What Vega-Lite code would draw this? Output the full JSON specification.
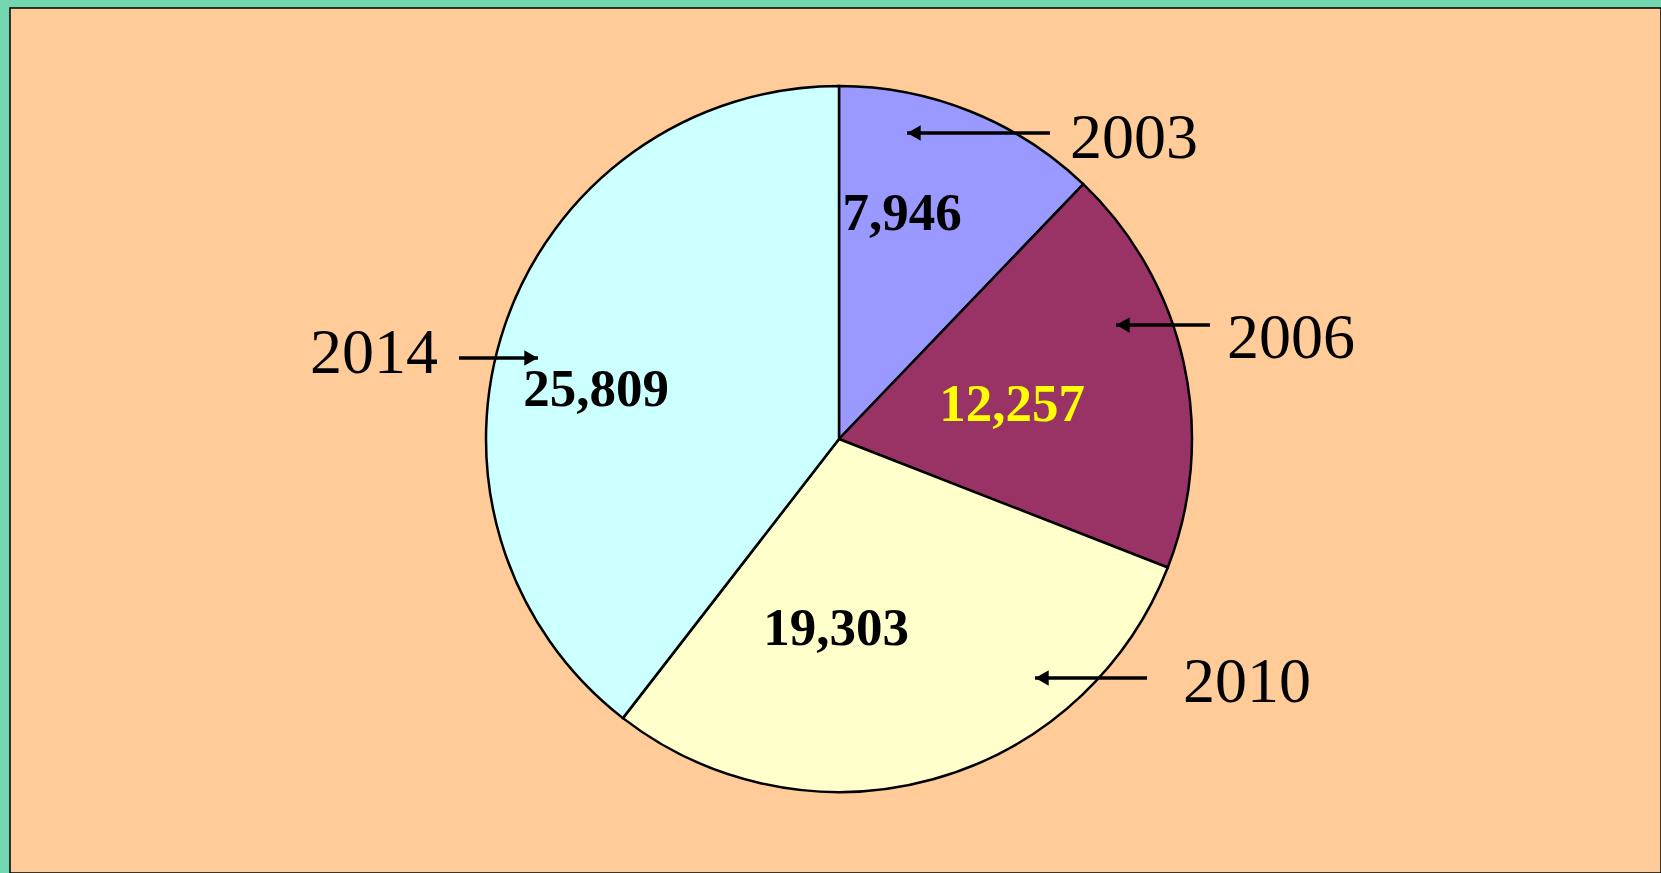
{
  "$schema": "https://vega.github.io/schema/vega-lite/v6.json",
  "width": 1651,
  "height": 865,
  "autosize": {"type": "none"},
  "padding": {"left": 10, "top": 8, "right": 0, "bottom": 0},
  "background": "#72D6B0",
  "config": {"view": {"fill": "#FFCC99", "stroke": "#000000", "strokeWidth": 1.5}},
  "data": {
    "values": [
      {"year": "2003", "value": 7946, "vx": 902, "vy": 230, "yx": 1070, "yy": 158, "ax1": 1050, "ax2": 907, "ay": 133},
      {"year": "2006", "value": 12257, "vx": 1012, "vy": 421, "yx": 1227, "yy": 358, "ax1": 1210, "ax2": 1116, "ay": 325},
      {"year": "2010", "value": 19303, "vx": 836, "vy": 645, "yx": 1183, "yy": 702, "ax1": 1147, "ax2": 1035, "ay": 678},
      {"year": "2014", "value": 25809, "vx": 596, "vy": 406, "yx": 310, "yy": 373, "ax1": 459, "ax2": 538, "ay": 358}
    ]
  },
  "layer": [
    {
      "mark": {"type": "arc", "outerRadius": 353, "stroke": "#000000", "strokeWidth": 2.5},
      "encoding": {
        "theta": {"field": "value", "type": "quantitative", "stack": true},
        "order": {"field": "year", "type": "ordinal", "sort": "ascending"},
        "color": {
          "field": "year",
          "type": "nominal",
          "scale": {"domain": ["2003", "2006", "2010", "2014"], "range": ["#9999FF", "#993366", "#FFFFCC", "#CCFFFF"]},
          "legend": null
        },
        "x": {"datum": 839, "type": "quantitative", "scale": {"domain": [10, 1661], "nice": false, "zero": false}, "axis": null},
        "y": {"datum": 439, "type": "quantitative", "scale": {"domain": [8, 873], "nice": false, "zero": false, "reverse": true}, "axis": null}
      }
    },
    {
      "mark": {"type": "rule", "stroke": "#000000", "strokeWidth": 3.5},
      "encoding": {
        "x": {"field": "ax1", "type": "quantitative"},
        "x2": {"field": "ax2"},
        "y": {"field": "ay", "type": "quantitative"}
      }
    },
    {
      "transform": [{"filter": "datum.year != '2014'"}],
      "mark": {"type": "point", "shape": "triangle-left", "filled": true, "color": "#000000", "size": 240, "xOffset": 7, "opacity": 1},
      "encoding": {
        "x": {"field": "ax2", "type": "quantitative"},
        "y": {"field": "ay", "type": "quantitative"}
      }
    },
    {
      "transform": [{"filter": "datum.year == '2014'"}],
      "mark": {"type": "point", "shape": "triangle-right", "filled": true, "color": "#000000", "size": 240, "xOffset": -7, "opacity": 1},
      "encoding": {
        "x": {"field": "ax2", "type": "quantitative"},
        "y": {"field": "ay", "type": "quantitative"}
      }
    },
    {
      "mark": {"type": "text", "font": "Liberation Serif", "fontSize": 53, "fontWeight": "bold", "align": "center", "baseline": "alphabetic"},
      "encoding": {
        "x": {"field": "vx", "type": "quantitative"},
        "y": {"field": "vy", "type": "quantitative"},
        "text": {"field": "value", "type": "quantitative", "format": ",d"},
        "color": {"condition": {"test": "datum.year == '2006'", "value": "#FFFF00"}, "value": "#000000"}
      }
    },
    {
      "mark": {"type": "text", "font": "Liberation Serif", "fontSize": 64, "align": "left", "baseline": "alphabetic", "color": "#000000"},
      "encoding": {
        "x": {"field": "yx", "type": "quantitative"},
        "y": {"field": "yy", "type": "quantitative"},
        "text": {"field": "year", "type": "nominal"}
      }
    }
  ]
}
